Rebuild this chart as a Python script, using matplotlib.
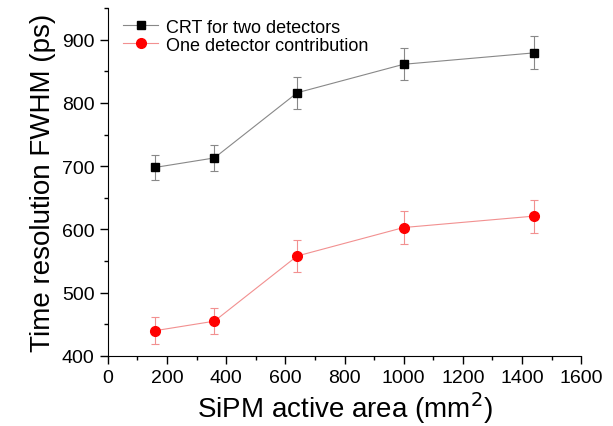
import numpy as np
import matplotlib
matplotlib.use("Agg")
import matplotlib.pyplot as plt
from matplotlib.ticker import MultipleLocator

plt.rcParams['font.family'] = ['Liberation Sans', 'DejaVu Sans']

# SiPM active area (mm^2)
area = [160, 360, 640, 1000, 1440]
# CRT for two detectors (ps)
crt = [698, 713, 816, 861, 879]
crt_err = [20, 20, 25, 25, 26]
# one detector contribution (ps)
single = [440, 455, 558, 603, 621]
single_err = [21, 21, 25, 26, 26]

fig = plt.figure(figsize=(6.13, 4.27), dpi=100)
ax = fig.add_axes([0.176, 0.164, 0.772, 0.815])

ax.errorbar(area, crt, yerr=crt_err, color='#888888', lw=0.8, marker='s',
            ms=6, mfc='black', mec='black', ecolor='#888888', elinewidth=0.8,
            capsize=3, capthick=0.8, label='CRT for two detectors')
ax.errorbar(area, single, yerr=single_err, color='#f29090', lw=0.8, marker='o',
            ms=7, mfc='red', mec='red', ecolor='#f29090', elinewidth=0.8,
            capsize=3, capthick=0.8, label='One detector contribution')

ax.set_xlim(0, 1600)
ax.set_ylim(400, 950)
ax.xaxis.set_major_locator(MultipleLocator(200))
ax.xaxis.set_minor_locator(MultipleLocator(100))
ax.yaxis.set_major_locator(MultipleLocator(100))
ax.yaxis.set_minor_locator(MultipleLocator(50))
ax.tick_params(which='major', direction='out', length=6, width=1, labelsize=14)
ax.tick_params(which='minor', direction='out', length=3, width=1)
for s in ['top', 'right']:
    ax.spines[s].set_visible(False)

ax.set_xlabel('SiPM active area (mm$^2$)', fontsize=20, labelpad=2)
ax.set_ylabel('Time resolution FWHM (ps)', fontsize=20, labelpad=4)

# legend shows line + marker only, no error bars
handles, labels = ax.get_legend_handles_labels()
handles = [h[0] for h in handles]
ax.legend(handles, labels, loc='upper left', frameon=False, fontsize=13,
          handlelength=1.9, handletextpad=0.45, borderaxespad=0.2,
          labelspacing=0.05, bbox_to_anchor=(0.01, 1.0))
fig.savefig('out.png', dpi=100)
